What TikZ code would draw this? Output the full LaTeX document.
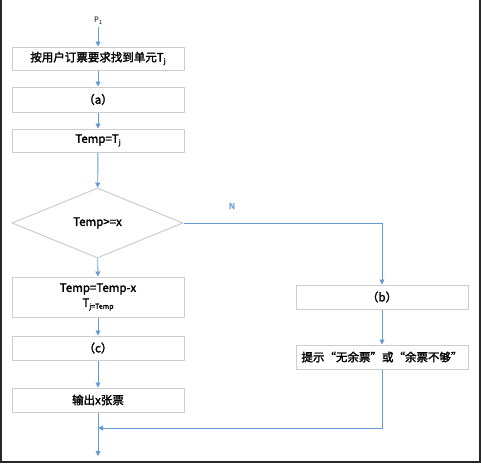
\documentclass[tikz,border=0pt]{standalone}
\usepackage{fontspec}
\setmainfont{Noto Sans CJK SC}[AutoFakeBold=2]
\usetikzlibrary{shapes.geometric,arrows.meta}
\definecolor{flow}{RGB}{100,155,213}
\definecolor{boxline}{RGB}{205,205,205}
\definecolor{frame}{RGB}{40,40,40}
\begin{document}
\begin{tikzpicture}[x=1pt,y=-1pt,
  every node/.style={font=\fontsize{11.5}{13}\selectfont\bfseries},
  procbox/.style={draw=boxline,line width=1pt,fill=white,rectangle,minimum width=172pt,inner sep=0pt},
  decbox/.style={draw=boxline,line width=1pt,fill=white,diamond,minimum width=171pt,minimum height=70pt,inner sep=0pt},
  flowline/.style={draw=flow,line width=0.9pt},
  flowarrow/.style={flowline,-{Triangle[width=5pt,length=5pt]}}
]
\useasboundingbox (0,0) rectangle (481,463);
% frame
\draw[frame,line width=1.3pt] (1,0) -- (1,462) -- (480,462) -- (480,0);

\node[font=\fontsize{7.5}{8}\selectfont] (p1) at (98,21) {P\raisebox{-1.5pt}{\fontsize{5.5}{6}\selectfont 1}};
\coordinate (start) at (98,27);
\node[procbox,minimum height=23pt] (b1) at (98,58.5) {按用户订票要求找到单元T\raisebox{-2pt}{\fontsize{7}{8}\selectfont j}};
\node[procbox,minimum height=25pt] (b2) at (98,99.5) {（a）};
\node[procbox,minimum height=23pt] (b3) at (98,140.5) {Temp=T\raisebox{-2pt}{\fontsize{7}{8}\selectfont j}};
\node[decbox] (d) at (97.5,223) {Temp>=x};
\node[procbox,minimum height=40pt,align=center] (b4) at (98,297) {Temp=Temp-x\\[2pt]T\raisebox{-2pt}{\fontsize{7}{8}\selectfont j=Temp}};
\node[procbox,minimum height=24pt] (bc) at (98,348) {（c）};
\node[procbox,minimum height=24pt] (bout) at (98,400) {输出x张票};
\coordinate (end) at (98,456);
\coordinate (join) at (98,428);

\node[procbox,minimum height=24pt] (bb) at (382,297) {（b）};
\node[procbox,minimum height=24pt] (btip) at (382,357) {提示“无余票”或“余票不够”};
\coordinate (turn1) at (382,223);
\coordinate (turn2) at (382,428);
\node[text=flow,font=\fontsize{8.5}{9}\selectfont\bfseries] (nlab) at (232,206) {N};

\draw[flowarrow] (start) -- (b1);
\draw[flowarrow] (b1) -- (b2);
\draw[flowarrow] (b2) -- (b3);
\draw[flowarrow] (b3) -- (d);
\draw[flowarrow] (d) -- (b4);
\draw[flowarrow] (b4) -- (bc);
\draw[flowarrow] (bc) -- (bout);
\draw[flowarrow] (bout) -- (end);
\draw[flowarrow] (d.east) -- (turn1) -- (bb);
\draw[flowarrow] (bb) -- (btip);
\draw[flowarrow] (btip) -- (turn2) -- (join);
\end{tikzpicture}
\end{document}
